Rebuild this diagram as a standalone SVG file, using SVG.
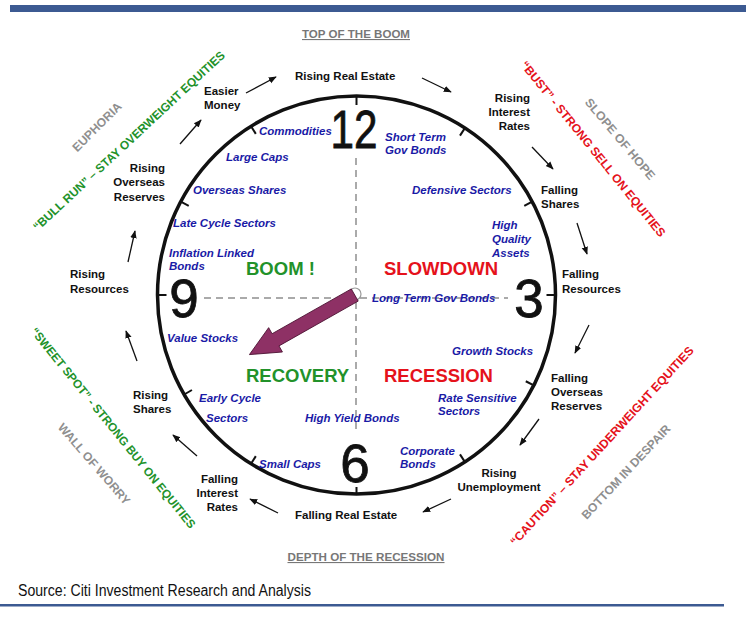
<svg xmlns="http://www.w3.org/2000/svg" width="746" height="618" viewBox="0 0 746 618">
<style>
.lbl{font-family:"Liberation Sans",Arial,sans-serif;font-weight:bold;font-size:11.5px;fill:#111}
.asset{font-family:"Liberation Sans",Arial,sans-serif;font-weight:bold;font-style:italic;font-size:11.5px;fill:#1a1aa6}
.phase{font-family:"Liberation Sans",Arial,sans-serif;font-weight:bold;font-size:18.5px}
.num{font-family:"Liberation Sans",Arial,sans-serif;font-size:53px;fill:#111;stroke:#111;stroke-width:0.8;text-anchor:middle}
.diag{font-family:"Liberation Sans",Arial,sans-serif;font-weight:bold;font-size:12px;text-anchor:middle;dominant-baseline:central}
.mood{font-family:"Liberation Sans",Arial,sans-serif;font-weight:bold;font-size:12px;fill:#8f8f8f;text-anchor:middle;dominant-baseline:central}
.hdr{font-family:"Liberation Sans",Arial,sans-serif;font-weight:bold;font-size:11px;fill:#777;text-anchor:middle;text-decoration:underline}
.green{fill:#22922a}
.red{fill:#e5121b}
.conn line{stroke:#111;stroke-width:1.3;marker-end:url(#ah)}
.dash{stroke:#aaa;stroke-width:2;stroke-dasharray:7 5;fill:none}
.tick{stroke:#111;stroke-width:2}
</style>
<defs>
<marker id="ah" viewBox="0 0 10 10" refX="9" refY="5" markerWidth="8" markerHeight="8" markerUnits="userSpaceOnUse" orient="auto">
<path d="M0,1 L10,5 L0,9 Z" fill="#111"/>
</marker>
</defs>
<rect width="746" height="618" fill="#fff"/>
<rect x="10" y="5" width="736" height="7" fill="#3c5a92"/>
<rect x="0" y="604" width="724" height="2.5" fill="#3c5a92"/>

<text class="hdr" x="356" y="38" textLength="108" lengthAdjust="spacingAndGlyphs">TOP OF THE BOOM</text>
<text class="hdr" x="366" y="561" textLength="157" lengthAdjust="spacingAndGlyphs">DEPTH OF THE RECESSION</text>
<text x="18" y="596" font-family="Liberation Sans, Arial, sans-serif" font-size="16" fill="#111" textLength="293" lengthAdjust="spacingAndGlyphs">Source: Citi Investment Research and Analysis</text>

<g id="clock">
<circle cx="356.5" cy="295" r="199" fill="none" stroke="#111" stroke-width="3.5"/>
<g transform="translate(356.5,295)">
<line class="tick" x1="0" y1="-199" x2="0" y2="-190"/>
<line class="tick" x1="0" y1="-199" x2="0" y2="-190" transform="rotate(33)"/>
<line class="tick" x1="0" y1="-199" x2="0" y2="-190" transform="rotate(62)"/>
<line class="tick" x1="0" y1="-199" x2="0" y2="-190" transform="rotate(90)"/>
<line class="tick" x1="0" y1="-199" x2="0" y2="-190" transform="rotate(117)"/>
<line class="tick" x1="0" y1="-199" x2="0" y2="-190" transform="rotate(147)"/>
<line class="tick" x1="0" y1="-199" x2="0" y2="-192" transform="rotate(180)"/>
<line class="tick" x1="0" y1="-199" x2="0" y2="-190" transform="rotate(212)"/>
<line class="tick" x1="0" y1="-199" x2="0" y2="-190" transform="rotate(240)"/>
<line class="tick" x1="0" y1="-199" x2="0" y2="-190" transform="rotate(270)"/>
<line class="tick" x1="0" y1="-199" x2="0" y2="-190" transform="rotate(298)"/>
<line class="tick" x1="0" y1="-199" x2="0" y2="-190" transform="rotate(328)"/>
</g>
<line class="dash" x1="356" y1="158" x2="356" y2="434"/>
<line class="dash" x1="204" y1="298" x2="508" y2="298"/>
<text class="num" x="354" y="148" textLength="47" lengthAdjust="spacingAndGlyphs">12</text>
<text class="num" x="529" y="317">3</text>
<text class="num" x="355" y="482">6</text>
<text class="num" x="184" y="317">9</text>
<circle cx="355" cy="294" r="6" fill="#fff" stroke="#999" stroke-width="1.2"/>
<g transform="translate(353,296) rotate(150.5)">
<polygon points="-2,-7 89,-7 89,-14 119,0 89,14 89,7 -2,7" fill="#8e3165" stroke="#4a1030" stroke-width="0.8"/>
</g>
</g>

<g id="phases">
<text class="phase green" x="246" y="275">BOOM !</text>
<text class="phase red" x="384" y="275">SLOWDOWN</text>
<text class="phase green" x="246" y="382">RECOVERY</text>
<text class="phase red" x="384" y="382">RECESSION</text>
</g>

<g id="assets">
<text class="asset" x="259" y="135">Commodities</text>
<text class="asset" x="226" y="161">Large Caps</text>
<text class="asset" x="193" y="194">Overseas Shares</text>
<text class="asset" x="173" y="227">Late Cycle Sectors</text>
<text class="asset" x="169" y="257">Inflation Linked</text>
<text class="asset" x="169" y="270">Bonds</text>
<text class="asset" x="385" y="141">Short Term</text>
<text class="asset" x="385" y="154">Gov Bonds</text>
<text class="asset" x="412" y="194">Defensive Sectors</text>
<text class="asset" x="492" y="229">High</text>
<text class="asset" x="492" y="243">Quality</text>
<text class="asset" x="492" y="257">Assets</text>
<text class="asset" x="372" y="302">Long Term Gov Bonds</text>
<text class="asset" x="167" y="342">Value Stocks</text>
<text class="asset" x="452" y="355">Growth Stocks</text>
<text class="asset" x="199" y="402">Early Cycle</text>
<text class="asset" x="206" y="422">Sectors</text>
<text class="asset" x="305" y="422">High Yield Bonds</text>
<text class="asset" x="438" y="402">Rate Sensitive</text>
<text class="asset" x="438" y="415">Sectors</text>
<text class="asset" x="259" y="468">Small Caps</text>
<text class="asset" x="400" y="455">Corporate</text>
<text class="asset" x="400" y="468">Bonds</text>
</g>

<g id="n-rising-real-estate"><text class="lbl" x="295" y="80">Rising Real Estate</text></g>
<g id="n-rising-interest-rates"><text class="lbl" text-anchor="end"><tspan x="530" y="102">Rising</tspan><tspan x="530" y="116">Interest</tspan><tspan x="530" y="130">Rates</tspan></text></g>
<g id="n-falling-shares"><text class="lbl"><tspan x="541" y="194">Falling</tspan><tspan x="541" y="208">Shares</tspan></text></g>
<g id="n-falling-resources"><text class="lbl"><tspan x="562" y="278">Falling</tspan><tspan x="562" y="293">Resources</tspan></text></g>
<g id="n-falling-overseas-reserves"><text class="lbl"><tspan x="551" y="382">Falling</tspan><tspan x="551" y="396">Overseas</tspan><tspan x="551" y="410">Reserves</tspan></text></g>
<g id="n-rising-unemployment"><text class="lbl" text-anchor="middle"><tspan x="499" y="477">Rising</tspan><tspan x="499" y="491">Unemployment</tspan></text></g>
<g id="n-falling-real-estate"><text class="lbl" x="295" y="519">Falling Real Estate</text></g>
<g id="n-falling-interest-rates"><text class="lbl" text-anchor="end"><tspan x="238" y="483">Falling</tspan><tspan x="238" y="497">Interest</tspan><tspan x="238" y="511">Rates</tspan></text></g>
<g id="n-rising-shares"><text class="lbl"><tspan x="133" y="399">Rising</tspan><tspan x="133" y="413">Shares</tspan></text></g>
<g id="n-rising-resources"><text class="lbl"><tspan x="70" y="278">Rising</tspan><tspan x="70" y="293">Resources</tspan></text></g>
<g id="n-rising-overseas-reserves"><text class="lbl" text-anchor="end"><tspan x="165" y="172">Rising</tspan><tspan x="165" y="186">Overseas</tspan><tspan x="165" y="201">Reserves</tspan></text></g>
<g id="n-easier-money"><text class="lbl"><tspan x="204" y="95">Easier</tspan><tspan x="204" y="109">Money</tspan></text></g>

<g id="connectors" class="conn">
<line x1="246" y1="93" x2="276" y2="77"/>
<line x1="422" y1="78" x2="451" y2="92"/>
<line x1="532" y1="147" x2="553" y2="169"/>
<line x1="577" y1="223" x2="587" y2="254"/>
<line x1="589" y1="325" x2="575" y2="353"/>
<line x1="539" y1="419" x2="520" y2="445"/>
<line x1="451" y1="499" x2="423" y2="512"/>
<line x1="278" y1="513" x2="250" y2="499"/>
<line x1="197" y1="456" x2="173" y2="435"/>
<line x1="137" y1="361" x2="126" y2="331"/>
<line x1="128" y1="262" x2="135" y2="231"/>
<line x1="180" y1="144" x2="201" y2="120"/>
</g>

<g id="sentiment">
<text class="mood" transform="translate(97,127) rotate(-45)" textLength="64" lengthAdjust="spacingAndGlyphs">EUPHORIA</text>
<text class="diag green" transform="translate(129,141) rotate(-43)" textLength="257" lengthAdjust="spacingAndGlyphs">“BULL RUN” – STAY OVERWEIGHT EQUITIES</text>
<text class="diag red" transform="translate(593,149) rotate(51)" textLength="222" lengthAdjust="spacingAndGlyphs">“BUST” - STRONG SELL ON EQUITIES</text>
<text class="mood" transform="translate(620,139) rotate(50)" textLength="102" lengthAdjust="spacingAndGlyphs">SLOPE OF HOPE</text>
<text class="diag green" transform="translate(113,428) rotate(51)" textLength="254" lengthAdjust="spacingAndGlyphs">“SWEET SPOT” - STRONG BUY ON EQUITIES</text>
<text class="mood" transform="translate(94,464) rotate(49)" textLength="103" lengthAdjust="spacingAndGlyphs">WALL OF WORRY</text>
<text class="diag red" transform="translate(602,446) rotate(-47.5)" textLength="265" lengthAdjust="spacingAndGlyphs">“CAUTION” – STAY UNDERWEIGHT EQUITIES</text>
<text class="mood" transform="translate(626,472) rotate(-47)" textLength="124" lengthAdjust="spacingAndGlyphs">BOTTOM IN DESPAIR</text>
</g>
</svg>
